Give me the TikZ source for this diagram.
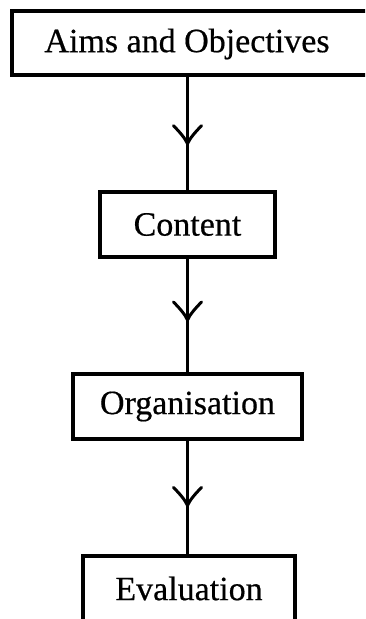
\documentclass[tikz,border=0pt]{standalone}
\usepackage{fontspec}
\setmainfont{Liberation Serif}[FakeBold=0.5]
\usetikzlibrary{decorations.markings}
\begin{document}
\begin{tikzpicture}[x=1pt,y=-1pt,
  box/.style={draw,line width=3.2pt,inner sep=0pt,font=\fontsize{34}{40}\selectfont},
  flow/.style={line width=3pt,decoration={markings,mark=at position #1 with {\draw[line width=3pt,line cap=round] (-18pt,14pt) .. controls (-12pt,8pt) and (-5pt,2pt) .. (0pt,0pt) .. controls (-5pt,-2pt) and (-12pt,-8pt) .. (-18pt,-14pt);}},postaction={decorate}}]
\useasboundingbox (0,0) rectangle (365,619);
\clip (0,0) rectangle (365,619);
\node[box,minimum width=364pt,minimum height=64pt] (aims) at (194,43) {};
\node[font=\fontsize{34}{40}\selectfont,inner sep=0pt] (aimstext) at (187,44) {Aims and Objectives};
\node[box,minimum width=175pt,minimum height=65pt] (content) at (187.5,224.5) {Content};
\node[box,minimum width=229pt,minimum height=65pt] (org) at (187.5,406.5) {Organisation};
\node[box,minimum width=212pt,minimum height=65pt] (eval) at (189,588.5) {Evaluation};
\draw[flow=0.59] (aims.south -| content.north) -- (content.north);
\draw[flow=0.54] (content.south) -- (org.north);
\draw[flow=0.57] (org.south) -- (org.south |- eval.north);
\end{tikzpicture}
\end{document}
